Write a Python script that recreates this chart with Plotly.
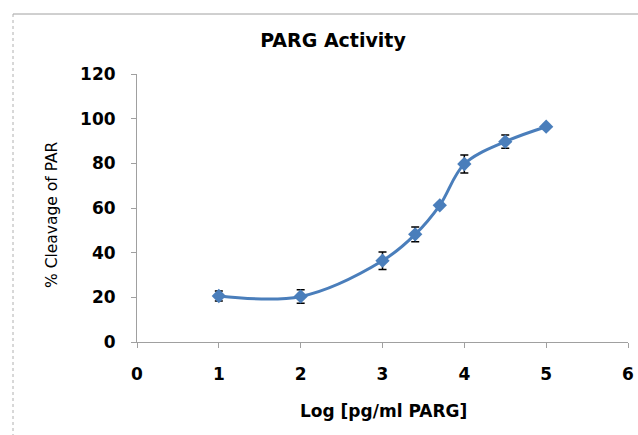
import plotly.graph_objects as go

log_conc = [1, 2, 3, 3.4, 3.7, 4, 4.5, 5]
cleavage = [20.6, 20.4, 36.4, 48.2, 61.2, 79.7, 89.7, 96.4]
err = [2.2, 3.0, 3.9, 3.3, 0, 4.0, 3.0, 0]

x_ticks = [0, 1, 2, 3, 4, 5, 6]
y_ticks = [0, 20, 40, 60, 80, 100, 120]

FONT = "DejaVu Sans"
blue = "#4A7EBB"

fig = go.Figure()
fig.add_trace(go.Scatter(
    x=log_conc, y=cleavage,
    mode="lines+markers",
    line=dict(color=blue, width=3, shape="spline", smoothing=1.0),
    marker=dict(symbol="diamond", size=11, color=blue),
    error_y=dict(type="data", array=err, visible=True, color="black", thickness=1.5, width=4),
    showlegend=False,
))

W, H = 638, 435
L, R, T, B = 137, 10, 74, 93
pw, ph = W - L - R, H - T - B

def px_to_paper_x(px):
    return (px - L) / pw

def px_to_paper_y(py):
    return (H - B - py) / ph

fig.update_layout(
    width=W, height=H,
    margin=dict(l=L, r=R, t=T, b=B, autoexpand=False),
    paper_bgcolor="white", plot_bgcolor="white",
    title=dict(text="<b>PARG Activity</b>", x=333 / W, xanchor="center",
               y=1 - 40 / H, yanchor="middle",
               font=dict(family=FONT, size=19, color="black")),
    font=dict(family=FONT, color="black"),
    xaxis=dict(range=[0, 6], tickvals=x_ticks, ticktext=[f"<b>{v}</b>" for v in x_ticks],
               showgrid=False, zeroline=False, showline=True, linecolor="#A0A0A0", linewidth=1,
               ticks="outside", ticklen=5, tickcolor="#A0A0A0", ticklabelstandoff=12,
               tickfont=dict(family=FONT, size=17, color="black")),
    yaxis=dict(range=[0, 120], tickvals=y_ticks, ticktext=[f"<b>{v}</b>" for v in y_ticks],
               showgrid=False, zeroline=False, showline=True, linecolor="#A0A0A0", linewidth=1,
               ticks="outside", ticklen=5, tickcolor="#A0A0A0", ticklabelstandoff=12,
               tickfont=dict(family=FONT, size=17, color="black")),
    annotations=[
        dict(text="<b>Log [pg/ml PARG]</b>", xref="paper", yref="paper",
             x=px_to_paper_x(383), y=px_to_paper_y(411), xanchor="center", yanchor="middle",
             showarrow=False, font=dict(family=FONT, size=17, color="black")),
        dict(text="% Cleavage of PAR", xref="paper", yref="paper", textangle=-90,
             x=px_to_paper_x(52), y=px_to_paper_y(215), xanchor="center", yanchor="middle",
             showarrow=False, font=dict(family=FONT, size=15.5, color="black")),
    ],
    shapes=[
        dict(type="line", xref="paper", yref="paper",
             x0=px_to_paper_x(13), x1=px_to_paper_x(700), y0=px_to_paper_y(14), y1=px_to_paper_y(14),
             line=dict(color="#A0A0A0", width=1)),
        dict(type="line", xref="paper", yref="paper",
             x0=px_to_paper_x(13), x1=px_to_paper_x(13), y0=px_to_paper_y(14), y1=px_to_paper_y(460),
             line=dict(color="#B0B0B0", width=1, dash="dot")),
    ],
)

fig.write_html("out.html", config={"displayModeBar": False},
               post_script="document.body.style.margin='0';")
